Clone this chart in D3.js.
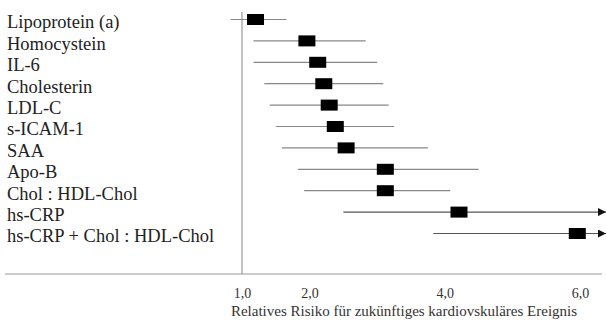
<!DOCTYPE html>
<html><head><meta charset="utf-8">
<script src="https://cdn.jsdelivr.net/npm/d3@7"></script>
<style>html,body{margin:0;padding:0;background:#fff;}svg{display:block;}</style>
</head><body>
<svg id="chart" width="607" height="327"></svg>
<script>
const categories = ["Lipoprotein (a)","Homocystein","IL-6","Cholesterin","LDL-C","s-ICAM-1","SAA","Apo-B","Chol : HDL-Chol","hs-CRP","hs-CRP + Chol : HDL-Chol"];
const estimates = [1.20, 1.96, 2.12, 2.21, 2.29, 2.38, 2.54, 3.12, 3.12, 4.21, 5.96];
const lowerCI   = [0.83, 1.17, 1.17, 1.33, 1.41, 1.50, 1.59, 1.83, 1.92, 2.50, 3.83];
const upperCI   = [1.66, 2.83, 3.00, 3.09, 3.17, 3.25, 3.75, 4.50, 4.08, null, null]; // null = open-ended (arrow)
const tickValues = [1, 2, 4, 6];
const axisTitle = "Relatives Risiko für zukünftiges kardiovskuläres Ereignis";

const svg = d3.select("#chart");
const font = "'Liberation Serif','Times New Roman',serif";
const x = d3.scaleLinear().domain([1, 6]).range([242, 580]);
const y = d3.scalePoint().domain(categories).range([22, 236]);
const barShift = -2.5;
const arrowEnd = 606;
const locale = d3.formatLocale({decimal: ",", thousands: ".", grouping: [3], currency: ["", "€"]});
const fmt = locale.format(".1f");

const defs = svg.append("defs");
defs.append("marker").attr("id","arr").attr("viewBox","0 0 10 10")
  .attr("refX",10).attr("refY",5).attr("markerWidth",8).attr("markerHeight",8)
  .attr("markerUnits","userSpaceOnUse").attr("orient","auto")
  .append("path").attr("d","M0,0L10,5L0,10Z").attr("fill","#111");

// frame lines
svg.append("line").attr("x1",5).attr("x2",602).attr("y1",274).attr("y2",274)
  .attr("stroke","#999").attr("stroke-width",1.2);
svg.append("line").attr("x1",x(1)).attr("x2",x(1)).attr("y1",12).attr("y2",274)
  .attr("stroke","#999").attr("stroke-width",1.2);

const data = categories.map((c,i)=>({c, est:estimates[i], lo:lowerCI[i], hi:upperCI[i]}));

// labels
svg.append("g").selectAll("text").data(data).join("text")
  .attr("x",7).attr("y",d=>y(d.c)).attr("dy","0.35em")
  .attr("font-family",font).attr("font-size",18.5).attr("fill","#222")
  .text(d=>d.c);

const rows = svg.append("g").selectAll("g").data(data).join("g")
  .attr("transform",d=>`translate(0,${y(d.c)+barShift})`);
rows.append("line")
  .attr("x1",d=>x(d.lo)).attr("x2",d=>d.hi==null?arrowEnd:x(d.hi))
  .attr("stroke",d=>d.hi==null?"#555":"#888").attr("stroke-width",1.2)
  .attr("marker-end",d=>d.hi==null?"url(#arr)":null);
rows.append("rect")
  .attr("x",d=>x(d.est)-8.5).attr("y",-5.5).attr("width",17).attr("height",11)
  .attr("fill","#000");

// axis
const axis = d3.axisBottom(x).tickValues(tickValues).tickFormat(fmt).tickSize(0).tickPadding(0);
const ag = svg.append("g").attr("transform","translate(0,288)").call(axis);
ag.select(".domain").remove();
ag.selectAll("text").attr("font-family",font).attr("font-size",14).attr("fill","#333");

svg.append("text").attr("x",(230+578)/2).attr("y",316).attr("text-anchor","middle")
  .attr("font-family",font).attr("font-size",15).attr("fill","#333").text(axisTitle);
</script>
</body></html>
